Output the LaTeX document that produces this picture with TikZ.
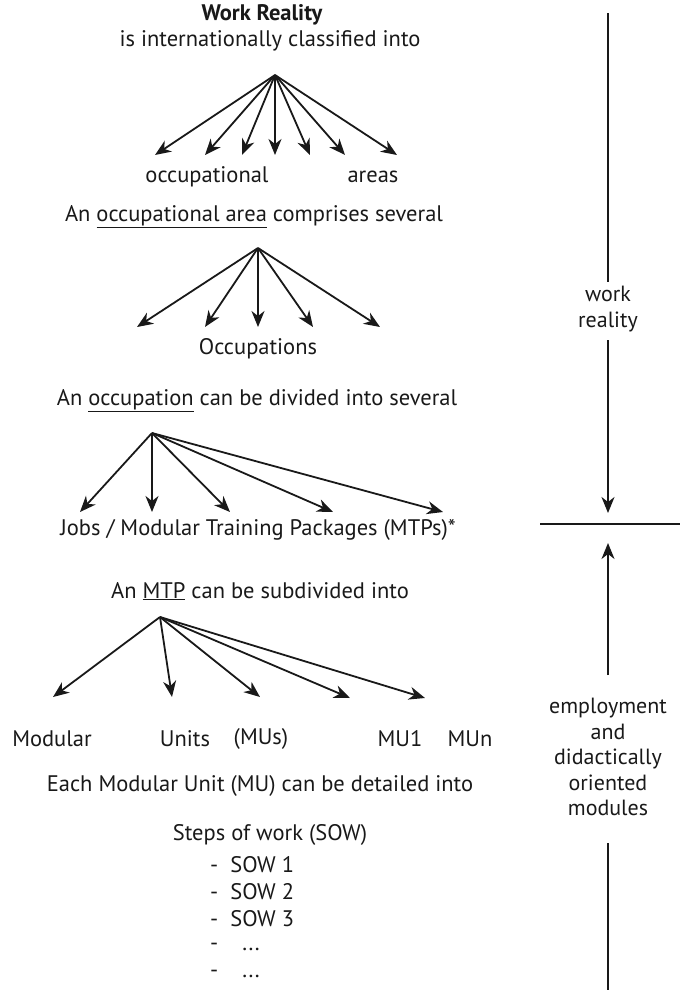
\documentclass[tikz,border=0pt]{standalone}
\usepackage{fontspec}
\setmainfont{PT Sans}
\usetikzlibrary{arrows.meta}
\tikzset{
  txt/.style={inner sep=0pt, anchor=center, font=\fontsize{22.5}{26}\selectfont, text=black!90},
  fan/.style={-{Stealth[length=16pt,width=13pt,inset=5pt]}, line width=1.8pt, black!90},
  side/.style={line width=1.8pt, black!90},
  sidelbl/.style={inner sep=0pt, align=center, font=\fontsize{22}{25.5}\selectfont, text=black!90},
}
\begin{document}
\begin{tikzpicture}[x=1pt,y=-1pt]
\useasboundingbox (0,0) rectangle (680,997);
% texts
\node[txt, font=\fontsize{22.5}{26}\selectfont\bfseries] (wr) at (262,15) {Work Reality};
\node[txt] (t1) at (270,41) {is internationally classified into};
\node[txt] (oc1) at (207,177) {occupational};
\node[txt] (oc2) at (373,177) {areas};
\node[txt] (t2) at (254,217) {An \underline{occupational area} comprises several};
\node[txt] (occ) at (258,349) {Occupations};
\node[txt] (t3) at (257,401) {An \underline{occupation} can be divided into several};
\node[txt] (jobs) at (258,530) {Jobs / Modular Training Packages (MTPs)*};
\node[txt] (t4) at (260,591) {An \underline{MTP} can be subdivided into};
\node[txt] (m1) at (52,739) {Modular};
\node[txt] (m2) at (185,739) {Units};
\node[txt] (m3) at (261,739) {(MUs)};
\node[txt] (m4) at (400,739) {MU1};
\node[txt] (m5) at (470,739) {MUn};
\node[txt] (t5) at (260,786) {Each Modular Unit (MU) can be detailed into};
\node[txt] (sow) at (270,835) {Steps of work (SOW)};
\node[txt, anchor=west] (s1) at (210,865) {-\ \ SOW 1};
\node[txt, anchor=west] (s2) at (210,892) {-\ \ SOW 2};
\node[txt, anchor=west] (s3) at (210,919) {-\ \ SOW 3};
\node[txt, anchor=west] (s4) at (210,947) {-\ \ \ \ ...};
\node[txt, anchor=west] (s5) at (210,974) {-\ \ \ \ ...};
% fan 1
\coordinate (a1) at (275,75);
\foreach \n/\x in {1/155,2/205,3/242,4/275,5/310,6/345,7/397}{
  \coordinate (a1t\n) at (\x,155);
  \draw[fan] (a1) -- (a1t\n);
}
% fan 2
\coordinate (a2) at (258,248);
\foreach \n/\x in {1/137,2/205,3/258,4/313,5/380}{
  \coordinate (a2t\n) at (\x,327);
  \draw[fan] (a2) -- (a2t\n);
}
% fan 3
\coordinate (a3) at (152,433);
\foreach \n/\x in {1/80,2/152,3/230,4/333,5/443}{
  \coordinate (a3t\n) at (\x,512);
  \draw[fan] (a3) -- (a3t\n);
}
% fan 4
\coordinate (a4) at (160,617);
\foreach \n/\x/\y in {1/53/697,2/172/697,3/260/697,4/350/698,5/425/698}{
  \coordinate (a4t\n) at (\x,\y);
  \draw[fan] (a4) -- (a4t\n);
}
% right side
\node[sidelbl] (wl) at (608,309) {work\\reality};
\node[sidelbl] (el) at (608,757) {employment\\and\\didactically\\oriented\\modules};
\coordinate (top) at (608,13);
\coordinate (wtop) at (608,282);
\coordinate (wbot) at (608,340);
\coordinate (bot) at (608,990);
\coordinate (hl) at (540,524);
\coordinate (hr) at (680,524);
\coordinate (dtip) at (608,513);
\coordinate (utip) at (608,543);
\coordinate (etop) at (608,675);
\coordinate (ebot) at (608,843);
\draw[side] (top) -- (wtop);
\draw[fan] (wbot) -- (dtip);
\draw[side] (hl) -- (hr);
\draw[fan] (etop) -- (utip);
\draw[side] (ebot) -- (bot);
\end{tikzpicture}
\end{document}
